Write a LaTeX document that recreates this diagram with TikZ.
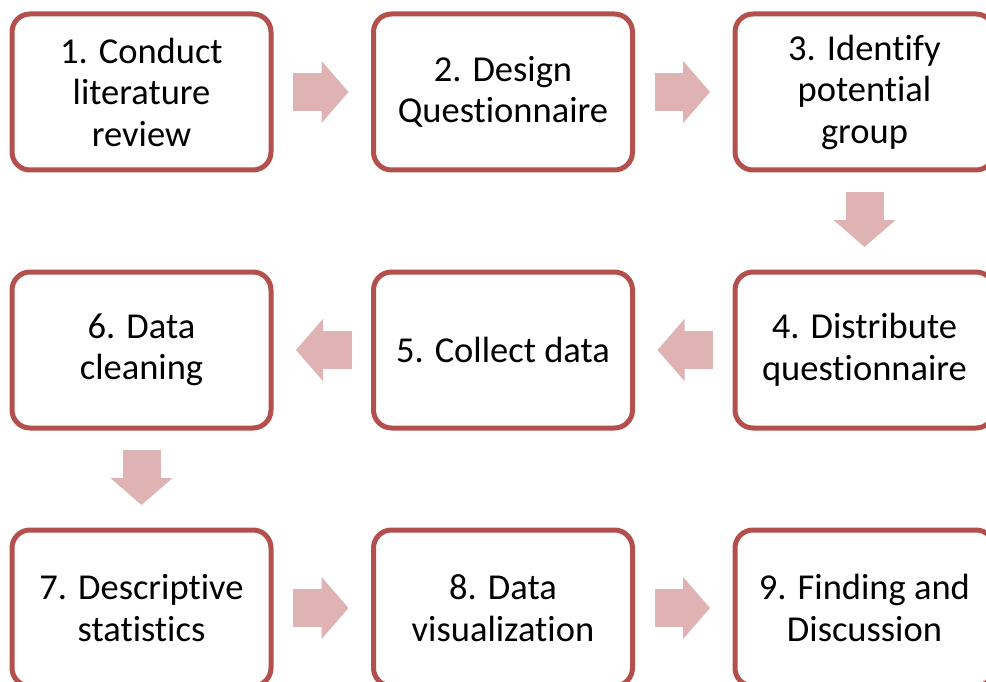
\documentclass[tikz,border=0pt]{standalone}
\usepackage{fontspec}
\setmainfont{Carlito}[Ligatures=NoCommon]
\usetikzlibrary{positioning,arrows.meta}
\definecolor{stepred}{HTML}{B3504D}
\definecolor{steppink}{HTML}{DFB3B3}

\begin{document}
\begin{tikzpicture}[
  node distance=102pt and 102.5pt,
  box/.style={rectangle,rounded corners=18pt,draw=stepred,line width=5pt,
              minimum width=259pt,minimum height=156pt,outer sep=0pt,
              align=center,fill=white},
  arrow/.style={-{Triangle[length=27pt,width=62pt,line width=1pt]},
                line width=38pt,draw=steppink,
                shorten <=22pt,shorten >=25pt},
  font=\fontsize{36.5pt}{41.5pt}\selectfont
]
  \useasboundingbox (0,0) rectangle (986pt,-682pt);
  % first row, left to right
  \node[box] (lit) at (141.5pt,-92pt) {1. Conduct\\literature\\review};
  \node[box,right=of lit]    (design) {2. Design\\Questionnaire};
  \node[box,right=of design] (group)  {3. Identify\\potential\\group};
  % second row, right to left
  \node[box,below=of group]   (distr)   {4. Distribute\\questionnaire};
  \node[box,left=of distr]    (collect) {5. Collect data};
  \node[box,left=of collect]  (clean)   {6. Data\\cleaning};
  % third row, left to right again
  \node[box,below=of clean]  (descr)   {7. Descriptive\\statistics};
  \node[box,right=of descr]  (visual)  {8. Data\\visualization};
  \node[box,right=of visual] (finding) {9. Finding and\\Discussion};

  \draw[arrow] (lit)     -- (design);
  \draw[arrow] (design)  -- (group);
  \draw[arrow] (group)   -- (distr);
  \draw[arrow] (distr)   -- (collect);
  \draw[arrow] (collect) -- (clean);
  \draw[arrow] (clean)   -- (descr);
  \draw[arrow] (descr)   -- (visual);
  \draw[arrow] (visual)  -- (finding);
\end{tikzpicture}
\end{document}
